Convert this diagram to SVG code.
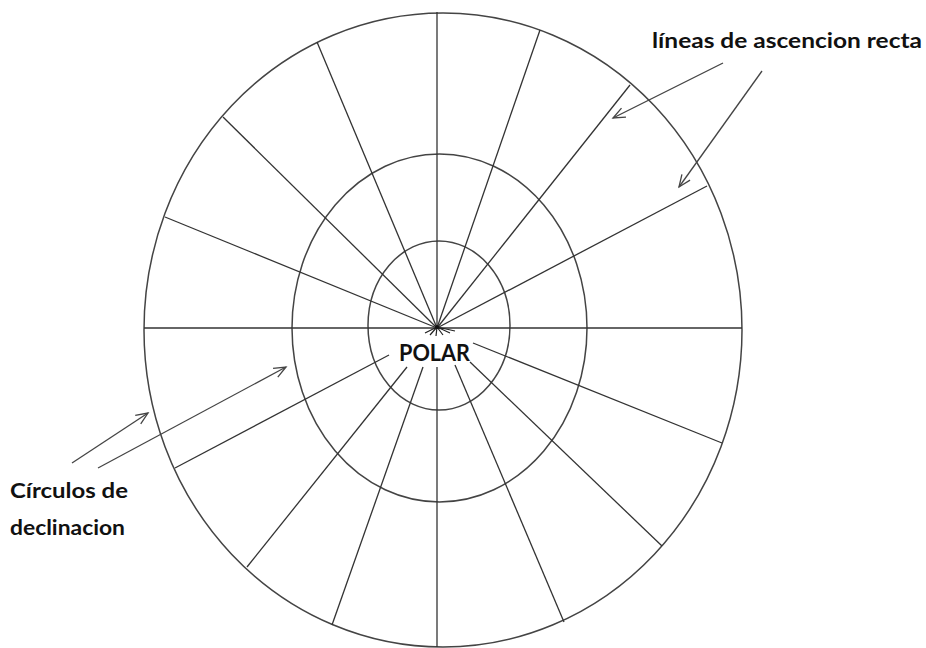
<svg xmlns="http://www.w3.org/2000/svg" width="926" height="648" viewBox="0 0 926 648">
<style>
.ring{fill:none;stroke:#444;stroke-width:1.5}
.ray{stroke:#333;stroke-width:1.3;fill:none}
.arr{stroke:#444;stroke-width:1.3;fill:none;marker-end:url(#vhead)}
.lbl{font-family:Lato,"Liberation Sans",sans-serif;font-weight:bold;fill:#111}
</style>
<defs>
<marker id="vhead" markerUnits="userSpaceOnUse" markerWidth="18" markerHeight="14" refX="13" refY="6" orient="auto">
<path d="M1,1 L13,6 L1,11" fill="none" stroke="#444" stroke-width="1.3"/>
</marker>
</defs>
<rect width="926" height="648" fill="#fff"/>
<g id="circles">
<ellipse class="ring" cx="443" cy="330" rx="299" ry="317"/>
<ellipse class="ring" cx="439.5" cy="328" rx="147.5" ry="174"/>
<ellipse class="ring" cx="439" cy="325.5" rx="71" ry="84.5"/>
</g>
<g id="radials">
<line class="ray" x1="144" y1="328" x2="742" y2="328"/>
<line class="ray" x1="437" y1="328" x2="437" y2="12"/>
<line class="ray" x1="437" y1="367" x2="437" y2="647"/>
<line class="ray" x1="437" y1="328" x2="165" y2="217"/>
<line class="ray" x1="437" y1="328" x2="223" y2="117"/>
<line class="ray" x1="437" y1="328" x2="317" y2="42"/>
<line class="ray" x1="437" y1="328" x2="540" y2="30"/>
<line class="ray" x1="437" y1="328" x2="630" y2="85"/>
<line class="ray" x1="437" y1="328" x2="707" y2="186"/>
<line class="ray" x1="389" y1="355" x2="175" y2="468"/>
<line class="ray" x1="407" y1="367" x2="247" y2="567"/>
<line class="ray" x1="423" y1="367" x2="332" y2="625"/>
<line class="ray" x1="473" y1="343" x2="722" y2="443"/>
<line class="ray" x1="470" y1="362" x2="662" y2="546"/>
<line class="ray" x1="455" y1="365" x2="564" y2="622"/>
</g>
<g id="hub">
<path d="M437,327 L425,333 M437,327 L430,335 M437,327 L436,336 M437,327 L443,335 M437,327 L450,333 M437,327 L455,331" stroke="#222" stroke-width="1.2" fill="none"/>
<circle cx="437" cy="327" r="2" fill="#111"/>
</g>
<g id="polar-label">
<text class="lbl" x="399" y="361" font-size="22" textLength="71" lengthAdjust="spacingAndGlyphs">POLAR</text>
</g>
<g id="ascension-label">
<text class="lbl" x="652" y="48" font-size="20" textLength="270" lengthAdjust="spacingAndGlyphs">líneas de ascencion recta</text>
</g>
<g id="declination-label">
<text class="lbl" x="10" y="498" font-size="20" textLength="118" lengthAdjust="spacingAndGlyphs">Círculos de</text>
<text class="lbl" x="10" y="535" font-size="20" textLength="115" lengthAdjust="spacingAndGlyphs">declinacion</text>
</g>
<g id="connectors">
<line class="arr" x1="723" y1="63" x2="613" y2="118"/>
<line class="arr" x1="762" y1="71" x2="679" y2="187"/>
<line class="arr" x1="72" y1="463" x2="148" y2="413"/>
<line class="arr" x1="98" y1="468" x2="286" y2="367"/>
</g>
</svg>
